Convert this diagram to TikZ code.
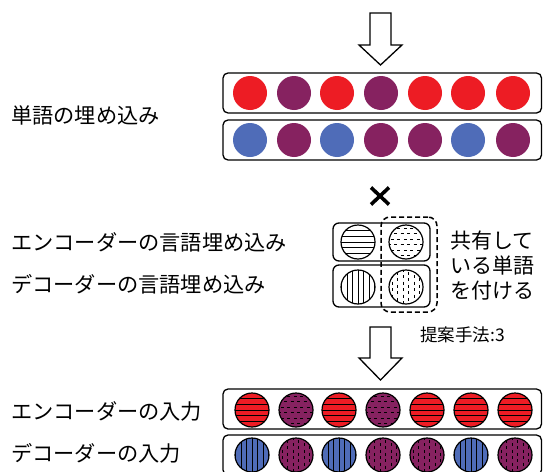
\documentclass[tikz,border=0pt]{standalone}
\usepackage{fontspec}
\newfontfamily\jpfont{Noto Sans CJK JP}
\definecolor{wred}{RGB}{237,28,36}
\definecolor{wpurple}{RGB}{134,34,96}
\definecolor{wblue}{RGB}{79,108,184}
\begin{document}
\begin{tikzpicture}[x=1pt,y=-1pt,
  rowbox/.style={draw, line width=1.3pt, rounded corners=5pt, inner sep=0, minimum width=318.5pt, minimum height=40pt},
  midbox/.style={draw, line width=1.3pt, rounded corners=6pt, inner sep=0, minimum width=97pt},
  tok/.style={circle, minimum size=34pt, inner sep=0},
  otok/.style={tok, draw=black, line width=1.2pt},
  hstripes/.style={path picture={\foreach \k in {-3,...,3} \draw[line width=0.9pt] ([yshift=\k*5.7pt]path picture bounding box.center) ++(-20,0) -- ++(40,0);}},
  vstripes/.style={path picture={\foreach \k in {-3,...,3} \draw[line width=0.9pt] ([xshift=\k*5.5pt]path picture bounding box.center) ++(0,-20) -- ++(0,40);}},
  hdashes/.style={path picture={\foreach \k [evaluate=\k as \ph using {mod(\k+10,2)*3.25}] in {-2.5,-1.5,-0.5,0.5,1.5,2.5} \draw[line width=1.2pt, dash pattern=on 3pt off 3.5pt, dash phase=\ph pt] ([yshift=\k*5.5pt]path picture bounding box.center) ++(-20,0) -- ++(40,0);}},
  vdashes/.style={path picture={\foreach \k [evaluate=\k as \ph using {mod(\k+10,2)*3.25}] in {-2.5,-1.5,-0.5,0.5,1.5,2.5} \draw[line width=1.2pt, dash pattern=on 3pt off 3.5pt, dash phase=\ph pt] ([xshift=\k*5.5pt]path picture bounding box.center) ++(0,-20) -- ++(0,40);}},
  lbl/.style={anchor=west, inner sep=0, font=\jpfont\fontsize{21.2}{24}\selectfont},
  arrowshape/.style={draw, fill=white, line width=1.3pt, line join=miter}
]
\useasboundingbox (0,0) rectangle (543,471);
\fill[white] (0,0) rectangle (543,471);

% top arrow
\draw[arrowshape] (370,13) -- (391,13) -- (391,45) -- (402,45) -- (380.5,65) -- (359,45) -- (370,45) -- cycle;

% word embeddings
\node[rowbox] (te) at (382.25,93) {};
\node[rowbox] (td) at (382.25,140) {};
\foreach \x/\c [count=\i] in {250/wred,294/wpurple,337/wred,381/wpurple,425/wred,468/wred,513/wred}
  \node[tok, fill=\c] (te\i) at (\x,93) {};
\foreach \x/\c [count=\i] in {250/wblue,294/wpurple,337/wblue,381/wpurple,425/wpurple,468/wblue,513/wpurple}
  \node[tok, fill=\c] (td\i) at (\x,140) {};
\node[lbl] (l1) at (11,115) {単語の埋め込み};

% cross
\coordinate (cross) at (380,196);
\draw[line width=3.6pt] (cross) ++(-9,-8.5) -- ++(18,17);
\draw[line width=3.6pt] (cross) ++(9,-8.5) -- ++(-18,17);

% language embeddings
\node[midbox, minimum height=38pt] (me) at (381.5,242) {};
\node[midbox, minimum height=42pt] (md) at (381.5,286) {};
\node[otok, fill=white, hstripes] (me1) at (358,242) {};
\node[otok, fill=white, hdashes] (me2) at (406,242) {};
\node[otok, fill=white, vstripes] (md1) at (358,287) {};
\node[otok, fill=white, vdashes] (md2) at (406,287) {};
\node[draw, line width=1.5pt, dash pattern=on 5pt off 3pt, rounded corners=9pt, inner sep=0, minimum width=56pt, minimum height=95pt] (shared) at (409,264.5) {};
\node[lbl] (l2) at (11,242) {エンコーダーの言語埋め込み};
\node[lbl] (l3) at (11,284) {デコーダーの言語埋め込み};
\node[lbl, font=\jpfont\fontsize{21}{24}\selectfont] (s1) at (450,241) {共有して};
\node[lbl, font=\jpfont\fontsize{21}{24}\selectfont] (s2) at (450,266) {いる単語};
\node[lbl, font=\jpfont\fontsize{21}{24}\selectfont] (s3) at (450,291) {を付ける};
\node[lbl, font=\jpfont\fontsize{17.5}{20}\selectfont] (m) at (420,335) {提案手法:3};

% second arrow
\draw[arrowshape] (370,327) -- (391,327) -- (391,358) -- (402,358) -- (380.5,380) -- (359,358) -- (370,358) -- cycle;

% inputs
\node[rowbox] (ie) at (382.25,409) {};
\node[rowbox] (id) at (382.25,455) {};
\foreach \x/\c/\p [count=\i] in {252/wred/hstripes,296/wpurple/hdashes,339/wred/hstripes,383/wpurple/hdashes,427/wred/hstripes,471/wred/hstripes,515/wred/hstripes}
  \node[otok, fill=\c, \p] (ie\i) at (\x,410) {};
\foreach \x/\c/\p [count=\i] in {252/wblue/vstripes,296/wpurple/vdashes,339/wblue/vstripes,383/wpurple/vdashes,427/wpurple/vdashes,471/wblue/vstripes,515/wpurple/vdashes}
  \node[otok, fill=\c, \p] (id\i) at (\x,455) {};
\node[lbl] (l4) at (11,411) {エンコーダーの入力};
\node[lbl] (l5) at (11,453) {デコーダーの入力};
\end{tikzpicture}
\end{document}
